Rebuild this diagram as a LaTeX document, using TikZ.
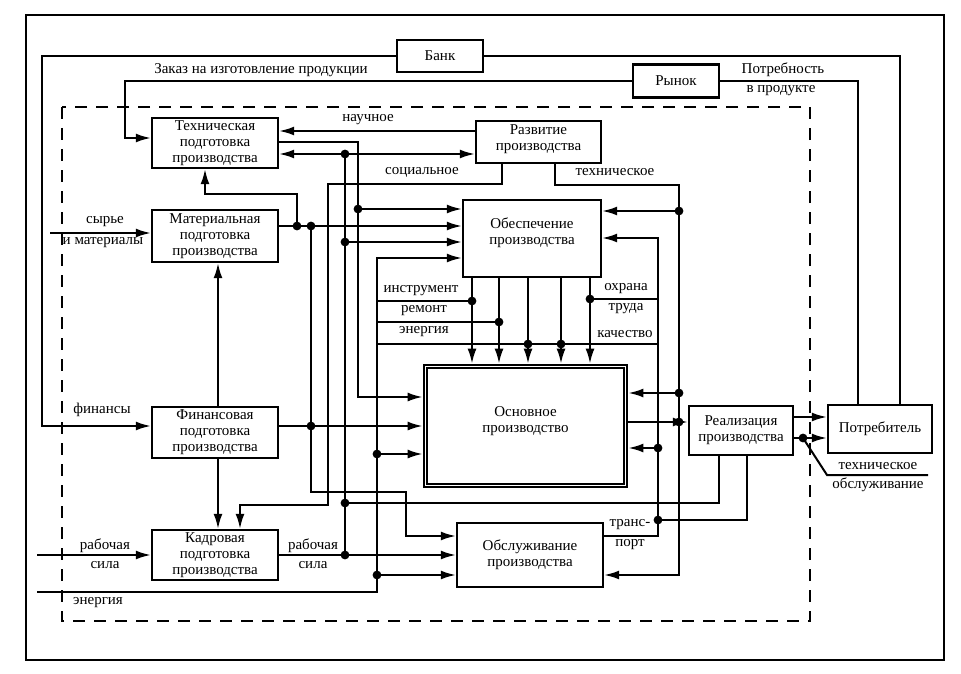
\documentclass[tikz,border=0pt]{standalone}
\usepackage{fontspec}
\setmainfont{Liberation Serif}
\usetikzlibrary{arrows.meta}
\begin{document}
\begin{tikzpicture}[x=1pt,y=-1pt,
  box/.style={draw, line width=2.4pt, align=center, inner sep=0pt, font=\fontsize{15}{16}\selectfont},
  ln/.style={line width=2pt},
  arr/.style={ln, -{Latex[length=15pt,width=9pt]}},
  arrb/.style={ln, {Latex[length=15pt,width=9pt]}-{Latex[length=15pt,width=9pt]}},
  lbl/.style={font=\fontsize{15}{16}\selectfont, inner sep=0pt, align=center},
]
\useasboundingbox (0,0) rectangle (961,674);
\draw[line width=2.6pt] (26,15) rectangle (944,660);
\draw[line width=2.2pt, dash pattern=on 12pt off 9pt] (62,107) rectangle (810,621);

% boxes
\node[box, minimum width=126pt, minimum height=50pt] (tech) at (215,143) {Техническая\\подготовка\\производства};
\node[box, minimum width=126pt, minimum height=52pt] (mat) at (215,236) {Материальная\\подготовка\\производства};
\node[box, minimum width=126pt, minimum height=51pt] (fin) at (215,432.5) {Финансовая\\подготовка\\производства};
\node[box, minimum width=126pt, minimum height=50pt] (kadr) at (215,555) {Кадровая\\подготовка\\производства};
\node[box, minimum width=125pt, minimum height=42pt] (razv) at (538.5,142) {};
\node[lbl] at (538.5,139) {Развитие\\производства};
\node[box, minimum width=138pt, minimum height=77pt] (obesp) at (532,238.5) {};
\node[lbl] at (532,233) {Обеспечение\\производства};
\node[box, line width=2.8pt, minimum width=203pt, minimum height=122pt] (osn) at (525.5,426) {};
\draw[line width=1.4pt] ([xshift=4.5pt,yshift=-4.5pt]osn.north west) rectangle ([xshift=-4.5pt,yshift=4.5pt]osn.south east);
\node[lbl] at (525.5,421) {Основное\\производство};
\node[box, minimum width=146pt, minimum height=64pt] (obsl) at (530,555) {Обслуживание\\производства};
\node[box, minimum width=104pt, minimum height=49pt] (real) at (741,430.5) {Реализация\\производства};
\node[box, minimum width=104pt, minimum height=48pt] (potr) at (880,429) {Потребитель};
\node[box, minimum width=86pt, minimum height=32pt] (bank) at (440,56) {Банк};
\node[box, minimum width=86pt, minimum height=33pt] (rynok) at (676,81) {Рынок};

% coordinates
\coordinate (b1) at (900,56); \coordinate (b2) at (42,56); \coordinate (b3) at (42,426);
\coordinate (r1) at (858,81); \coordinate (r2) at (125,81); \coordinate (r3) at (125,138);
\coordinate (n1) at (400,131);
\coordinate (a1) at (358,142); \coordinate (a2) at (358,397); \coordinate (ja) at (358,209);
\coordinate (jb1) at (345,154); \coordinate (jb2) at (345,242); \coordinate (jb3) at (345,503); \coordinate (jb4) at (345,555);
\coordinate (m1) at (297,226); \coordinate (m2) at (297,194); \coordinate (m3) at (205,194);
\coordinate (jm) at (311,226); \coordinate (m4) at (311,492); \coordinate (m5) at (406,492); \coordinate (m6) at (406,536);
\coordinate (jf) at (311,426);
\coordinate (s1) at (502,184); \coordinate (s2) at (328,184); \coordinate (s3) at (328,505); \coordinate (s4) at (240,505);
\coordinate (t1) at (555,185); \coordinate (t2) at (679,185); \coordinate (t3) at (679,575);
\coordinate (jt1) at (679,211); \coordinate (jt2) at (679,393); \coordinate (jt3) at (679,422);
\coordinate (e0) at (37,592); \coordinate (e1) at (377,592); \coordinate (e2) at (377,258);
\coordinate (je1) at (377,454); \coordinate (je2) at (377,575);
\coordinate (i1) at (472,301); \coordinate (i2) at (499,322); \coordinate (i3) at (528,344); \coordinate (i4) at (561,344); \coordinate (i5) at (590,299);
\coordinate (q1) at (658,238); \coordinate (q2) at (658,299); \coordinate (q3) at (658,344);
\coordinate (q4) at (658,448); \coordinate (q5) at (658,520); \coordinate (q6) at (658,536);
\coordinate (u1) at (719,503); \coordinate (u2) at (747,520);
\coordinate (p1) at (810,417); \coordinate (p2) at (803,438);
\coordinate (w1) at (827,475); \coordinate (w2) at (928,475);
\coordinate (f1) at (218,300);
\coordinate (y1) at (50,233); \coordinate (l1) at (37,555);

% bank and market loops
\draw[ln] (potr.north -| b1) -- (b1) -- (bank.east |- b1);
\draw[arr] (bank.west |- b2) -- (b2) -- (b3) -- (fin.west |- b3);
\draw[ln] (potr.north -| r1) -- (r1) -- (rynok.east |- r1);
\draw[arr] (rynok.west |- r2) -- (r2) -- (r3) -- (tech.west |- r3);

% technical preparation links
\draw[arr] (razv.west |- n1) -- (tech.east |- n1);
\draw[arr] (tech.east |- a1) -- (a1) -- (a2) -- (osn.west |- a2);
\draw[arr] (ja) -- (obesp.west |- ja);
\draw[arrb] (tech.east |- jb1) -- (razv.west |- jb1);
\draw[ln] (jb1) -- (jb4);
\draw[arr] (jb2) -- (obesp.west |- jb2);

% material
\draw[arr] (mat.east |- m1) -- (obesp.west |- m1);
\draw[arr] (m1) -- (m2) -- (m3) -- (tech.south -| m3);
\draw[arr] (jm) -- (m4) -- (m5) -- (m6) -- (obsl.west |- m6);
\draw[arr] (fin.east |- jf) -- (osn.west |- jf);

% social / technical development
\draw[arr] (razv.south -| s1) -- (s1) -- (s2) -- (s3) -- (s4) -- (kadr.north -| s4);
\draw[arr] (razv.south -| t1) -- (t1) -- (t2) -- (t3) -- (obsl.east |- t3);
\draw[arr] (jt1) -- (obesp.east |- jt1);
\draw[arr] (jt2) -- (osn.east |- jt2);
\draw[arr] (osn.east |- jt3) -- (real.west |- jt3);

% energy
\draw[arr] (e0) -- (e1) -- (e2) -- (obesp.west |- e2);
\draw[arr] (je1) -- (osn.west |- je1);
\draw[arr] (je2) -- (obsl.west |- je2);
\draw[ln] (e2 |- i1) -- (i1);
\draw[ln] (e2 |- i2) -- (i2);
\draw[ln] (e2 |- i3) -- (q3);
\foreach \c in {i1,i2,i3,i4,i5} \draw[arr] (obesp.south -| \c) -- (osn.north -| \c);

% right bus
\draw[arr] (obsl.east |- q6) -- (q6) -- (q1) -- (obesp.east |- q1);
\draw[ln] (q2) -- (i5);
\draw[arr] (q4) -- (osn.east |- q4);
\draw[ln] (q5) -- (u2) -- (real.south -| u2);
\draw[ln] (real.south -| u1) -- (u1) -- (jb3);

% realization and consumer
\draw[arr] (real.east |- p1) -- (potr.west |- p1);
\draw[arr] (p2) -- (potr.west |- p2);
\draw[ln] (real.east |- p2) -- (p2);
\draw[ln] (p2) -- (w1) -- (w2);

% finance vertical
\draw[arr] (fin.north -| f1) -- (mat.south -| f1);
\draw[arr] (fin.south -| f1) -- (kadr.north -| f1);

% inputs
\draw[arr] (y1) -- (mat.west |- y1);
\draw[arr] (l1) -- (kadr.west |- l1);
\draw[arr] (kadr.east |- jb4) -- (obsl.west |- jb4);

% dots
\foreach \c in {ja,jb1,jb2,jb3,jb4,m1,jm,jf,jt1,jt2,jt3,je1,je2,i1,i2,i3,i4,i5,q4,q5,p2}
  \fill (\c) circle (4.4pt);

% labels
\node[lbl] at (261,70) {Заказ на изготовление продукции};
\node[lbl] at (783,70) {Потребность};
\node[lbl] at (781,91) {в продукте};
\node[lbl] at (368,120) {научное};
\node[lbl] at (422,172) {социальное};
\node[lbl] at (615,172) {техническое};
\node[lbl] at (105,222) {сырье};
\node[lbl] at (103,243) {и материалы};
\node[lbl] at (102,410) {финансы};
\node[lbl] at (421,291) {инструмент};
\node[lbl] at (424,311) {ремонт};
\node[lbl] at (424,332) {энергия};
\node[lbl] at (626,289) {охрана};
\node[lbl] at (626,309) {труда};
\node[lbl] at (625,334) {качество};
\node[lbl] at (630,525) {транс-};
\node[lbl] at (630,545) {порт};
\node[lbl] at (105,546) {рабочая};
\node[lbl] at (105,565) {сила};
\node[lbl] at (313,546) {рабочая};
\node[lbl] at (313,565) {сила};
\node[lbl] at (98,603) {энергия};
\node[lbl] at (878,466) {техническое};
\node[lbl] at (878,485) {обслуживание};
\end{tikzpicture}
\end{document}
